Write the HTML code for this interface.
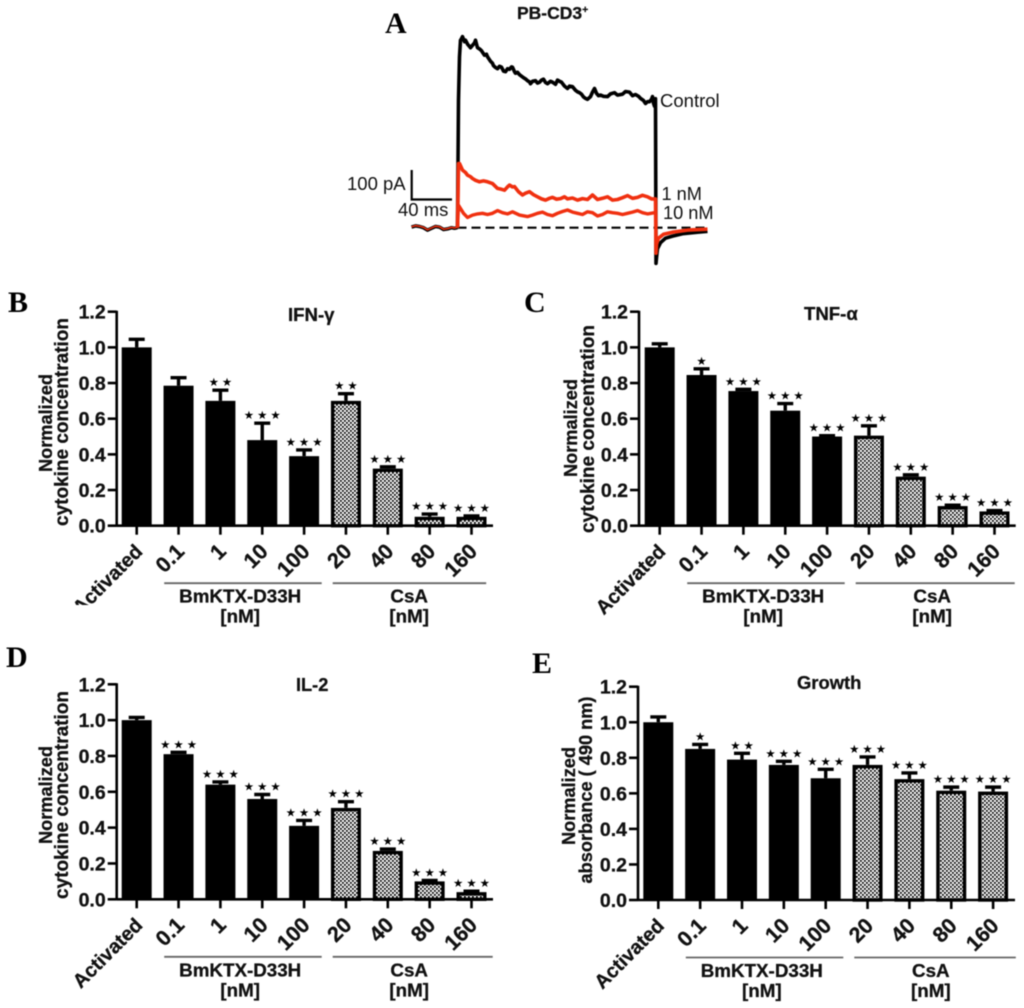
<!DOCTYPE html>
<html>
<head>
<meta charset="utf-8">
<title>BmKTX-D33H figure</title>
<style>
html,body{margin:0;padding:0;background:#fff;width:1024px;height:1008px;overflow:hidden}
svg{display:block;filter:blur(0.5px)}
text{font-family:"Liberation Sans",sans-serif;fill:#111}
.b{font-weight:bold;stroke:#111;stroke-width:0.3px}
.letter{font-family:"Liberation Serif",serif;font-weight:bold;font-size:30px;fill:#000}
.star{font-family:"DejaVu Sans",sans-serif;font-size:11.5px;letter-spacing:3px;fill:#000}
</style>
</head>
<body>
<svg id="fig" xmlns="http://www.w3.org/2000/svg" width="1024" height="1008" viewBox="0 0 1024 1008">
  <defs>
    <pattern id="checker" width="4" height="4" patternUnits="userSpaceOnUse">
      <rect width="4" height="4" fill="#fff"></rect>
      <rect width="1.8" height="1.8" fill="#000"></rect>
      <rect x="2" y="2" width="1.8" height="1.8" fill="#000"></rect>
    </pattern>
    <clipPath id="clip-b-activated"><rect x="0" y="540" width="200" height="65"></rect></clipPath>
  </defs>
  <rect width="1024" height="1008" fill="#fff"></rect>
  <text class="letter" x="385" y="33">A</text>
  <text class="letter" x="8" y="312">B</text>
  <text class="letter" x="524" y="312">C</text>
  <text class="letter" x="6" y="667">D</text>
  <text class="letter" x="532" y="673">E</text>
  <text class="b" x="517" y="19" font-size="17.5">PB-CD3<tspan font-size="10.5" dy="-6">+</tspan></text>
  <text x="347" y="190" font-size="18.5">100 pA</text>
  <text x="398" y="216" font-size="18.5">40 ms</text>
  <text x="660" y="107" font-size="18.5">Control</text>
  <text x="661.5" y="200" font-size="18.2">1 nM</text>
  <text x="663" y="219" font-size="18.2">10 nM</text>
</svg>
<script>
const categories = ["Activated","0.1","1","10","100","20","40","80","160"];
const yTicks = [0,0.2,0.4,0.6,0.8,1.0,1.2];
const yTickLabels = ["0.0","0.2","0.4","0.6","0.8","1.0","1.2"];

const ifnMeans = [1.0,0.785,0.70,0.48,0.39,0.70,0.32,0.05,0.05];
const ifnTops = [1.045,0.83,0.76,0.575,0.425,0.74,0.33,0.065,0.055];
const ifnStars = [0,0,2,3,3,2,3,3,3];

const tnfMeans = [1.0,0.845,0.755,0.645,0.50,0.505,0.275,0.11,0.08];
const tnfTops = [1.02,0.88,0.765,0.685,0.505,0.56,0.285,0.115,0.085];
const tnfStars = [0,1,3,3,3,3,3,3,3];

const il2Means = [1.0,0.81,0.64,0.56,0.41,0.51,0.27,0.10,0.04];
const il2Tops = [1.015,0.82,0.655,0.585,0.44,0.545,0.28,0.105,0.045];
const il2Stars = [0,3,3,3,3,3,3,3,3];

const growthMeans = [1.0,0.85,0.79,0.76,0.685,0.76,0.68,0.615,0.61];
const growthTops = [1.03,0.875,0.825,0.78,0.735,0.805,0.715,0.635,0.635];
const growthStars = [0,1,2,3,3,3,3,3,3];

const preTime = [-46,-42,-38,-34,-30,-26,-22,-18,-14,-10,-6,-3,0];
const preCurrent = [2,6,4,0,-8,-2,4,2,-6,-4,0,-2,0];

const controlTime = [1,2,3,4,5,6,7,8,10,12,13,15,17,18,19,20,22,24,26,27,29,30,32,33,35,36,38,40,42,44,46,48,50,52,54,55,57,58,60,62,64,66,68,70,72,73,75,78,80,82,84,86,88,90,93,95,98,100,102,104,107,110,112,115,118,120,122,124,126,128,130,133,135,137,139,141,143,146,150,153,157,160,165,168,172,175,178,181,183,186,188,190,192,194,195,196,197,198,198.5,199,200,203,208,215,225,240,250];
const controlCurrent = [425,570,625,630,637,628,620,625,612,604,600,608,616,625,612,600,596,590,580,575,578,570,560,555,548,540,534,530,538,535,522,520,530,528,536,535,520,515,518,510,505,500,496,490,486,480,488,490,482,485,492,495,484,480,488,485,478,492,488,485,472,464,472,470,458,453,450,445,436,431,428,437,452,464,448,440,442,438,437,446,450,442,445,454,452,440,444,438,431,424,414,420,420,428,437,415,405,430,-119,-100,-70,-50,-35,-28,-20,-15,-12];

const oneNmTime = [0.5,1,2,5,8,10,13,15,18,22,26,30,35,40,44,47,50,52,55,57,61,65,68,72,76,80,84,88,92,95,99,103,107,110,115,120,125,130,135,140,145,150,155,160,165,170,175,180,185,190,194,197,198,198.5,199,201,206,215,230,250];
const oneNmCurrent = [100,214,214,192,184,175,170,164,158,153,156,153,147,131,128,125,136,142,136,137,120,109,115,120,110,103,96,92,98,101,95,97,103,96,99,92,97,94,109,94,98,103,92,94,100,107,98,101,108,103,96,96,96,-85,-55,-35,-22,-15,-8,-5];

const tenNmTime = [0.5,1,3,6,10,15,20,25,30,35,40,45,50,55,62,70,75,80,85,90,95,100,105,110,115,120,125,130,135,140,145,150,155,160,165,170,175,180,185,190,197,198];
const tenNmCurrent = [40,75,64,48,34,42,46,48,44,48,57,50,46,53,42,37,42,48,52,44,40,48,54,59,52,48,44,53,50,39,44,53,50,48,44,48,52,57,50,46,50,50];

const svg = document.getElementById('fig');
const NS = 'http://www.w3.org/2000/svg';

function mk(tag, attrs, text){
  const el = document.createElementNS(NS, tag);
  for (const k in attrs) el.setAttribute(k, attrs[k]);
  if (text !== undefined) el.textContent = text;
  svg.appendChild(el);
  return el;
}

/* Panel A axis functions: 1 ms = 1 px, 100 pA = 30 px */
const traceX = t => 457.5 + t;
const traceY = i => 227.7 - i * 0.3;
function tracePath(ts, is){
  return ts.map((t,i) => (i ? 'L' : 'M') + traceX(t).toFixed(1) + ' ' + traceY(is[i]).toFixed(1)).join(' ');
}
function drawTrace(ts, is, color, width){
  return mk('path', {d: tracePath(ts, is), fill:'none', stroke:color, 'stroke-width':width, 'stroke-linejoin':'round'});
}

const dash = mk('line', {x1:traceX(0), x2:traceX(250), y1:traceY(0), y2:traceY(0), stroke:'#000', 'stroke-width':2.2, 'stroke-dasharray':'9 5'});



const scaleBar = mk('path', {d:'M411.7 170 V199.5 H452', fill:'none', stroke:'#000', 'stroke-width':2.2});



const preTrace = drawTrace(preTime, preCurrent, '#000', 3.5);



const controlTrace = drawTrace([0].concat(controlTime), [0].concat(controlCurrent), '#000', 3.6);



const preRed = drawTrace(preTime, preCurrent.map(v => v + 1), '#f03010', 1.5);



const oneTrace = drawTrace([0].concat(oneNmTime), [0].concat(oneNmCurrent), '#f03010', 3.6);



const tenTrace = drawTrace([0].concat(tenNmTime), [0].concat(tenNmCurrent), '#f03010', 3.4);



function drawPanel(p, means, tops, stars){
  const y = v => p.y0 - v * (p.y0 - p.y12) / 1.2;
  const x = i => p.c0 + i * 41.85;

  means.forEach((m, i) => {
    const left = x(i) - 15;
    const patterned = i >= 5;
    const err = mk('path', {d:`M${x(i)} ${y(m)} V${y(tops[i])} M${x(i)-8} ${y(tops[i])} H${x(i)+8}`, stroke:'#000', 'stroke-width':3.4, fill:'none'});
    
    
    const bar = patterned
      ? mk('rect', {x:left+1.7, y:y(m)+1.7, width:26.6, height:Math.max(0, y(0)-y(m)-1.7), fill:'url(#checker)', stroke:'#000', 'stroke-width':3.4})
      : mk('rect', {x:left, y:y(m), width:30, height:y(0)-y(m), fill:'#000'});
    
    
    if (stars[i] > 0) {
      const s = mk('text', {class:'star', x:x(i)+1.5, y:y(tops[i])-4, 'text-anchor':'middle'}, '★'.repeat(stars[i]));
      
      
    }
    const tick = mk('line', {x1:x(i), x2:x(i), y1:y(0), y2:y(0)+9, stroke:'#000', 'stroke-width':2.6});
    
    
    const lbl = mk('text', {class:'b', 'font-size':i === 0 ? 19.8 : 21.5, 'text-anchor':'end', transform:`translate(${x(i)+7} ${y(0)+27}) rotate(-45)`}, categories[i]);
    
    
    if (i === 0 && p.clipActivated) {
      const g = mk('g', {'clip-path':'url(#clip-b-activated)'});
      
      
      g.appendChild(lbl);
    }
  });

  yTicks.forEach((v, i) => {
    const t = mk('line', {x1:p.axisX-9, x2:p.axisX, y1:y(v), y2:y(v), stroke:'#000', 'stroke-width':2.6});
    
    
    const l = mk('text', {class:'b', 'font-size':19.5, 'text-anchor':'end', x:p.axisX-11, y:y(v)+7}, yTickLabels[i]);
    
    
  });

  const yAxis = mk('line', {x1:p.axisX, x2:p.axisX, y1:y(1.2)-1, y2:y(0)+1, stroke:'#000', 'stroke-width':2.6});
  
  
  const xAxis = mk('line', {x1:p.axisX, x2:p.xEnd, y1:y(0), y2:y(0), stroke:'#000', 'stroke-width':2.6});
  
  

  const title = mk('text', {class:'b', 'font-size':p.titleSize, x:p.titleX, y:p.titleY}, p.title);
  
  

  const yt1 = mk('text', {class:'b', 'font-size':18.2, 'text-anchor':'middle', transform:`translate(${p.yt1X} ${p.yt1C}) rotate(-90)`}, 'Normalized');
  
  
  const yt2 = mk('text', {class:'b', 'font-size':p.yt2Size, 'text-anchor':'middle', transform:`translate(${p.yt2X} ${p.yt2C}) rotate(-90)`}, p.yTitle2);
  
  

  const g1 = mk('line', {x1:p.c0+27.5, x2:p.c0+185, y1:y(0)+57.5, y2:y(0)+57.5, stroke:'#666', 'stroke-width':1.8});
  
  
  const g2 = mk('line', {x1:p.c0+196, x2:p.c0+p.g2End, y1:y(0)+57.5, y2:y(0)+57.5, stroke:'#666', 'stroke-width':1.8});
  
  

  const t1 = mk('text', {class:'b', 'font-size':18.8, 'text-anchor':'middle', x:p.c0+103.5, y:y(0)+77}, 'BmKTX-D33H');
  
  
  const t2 = mk('text', {class:'b', 'font-size':18.8, 'text-anchor':'middle', x:p.c0+103.5, y:y(0)+97}, '[nM]');
  
  
  const t3 = mk('text', {class:'b', 'font-size':18.8, 'text-anchor':'middle', x:p.c0+272.5, y:y(0)+77}, 'CsA');
  
  
  const t4 = mk('text', {class:'b', 'font-size':18.8, 'text-anchor':'middle', x:p.c0+272.5, y:y(0)+97}, '[nM]');
  
  
}

drawPanel({axisX:116.7,y0:525.7,y12:311.7,c0:136.7,xEnd:493,title:'IFN-γ',titleSize:18.6,titleX:288,titleY:321,
  yTitle2:'cytokine concentration',yt2Size:19,yt1X:52,yt1C:423,yt2X:68,yt2C:422,g2End:349.5,clipActivated:true}, ifnMeans, ifnTops, ifnStars);
drawPanel({axisX:639,y0:525.7,y12:311.7,c0:659.7,xEnd:1015.7,title:'TNF-α',titleSize:18.6,titleX:804,titleY:320,
  yTitle2:'cytokine concentration',yt2Size:19,yt1X:577,yt1C:428,yt2X:594,yt2C:429,g2End:355}, tnfMeans, tnfTops, tnfStars);
drawPanel({axisX:116.7,y0:899.3,y12:684.3,c0:136.7,xEnd:493,title:'IL-2',titleSize:18.2,titleX:296,titleY:691,
  yTitle2:'cytokine concentration',yt2Size:19,yt1X:52,yt1C:795,yt2X:68,yt2C:795,g2End:356}, il2Means, il2Tops, il2Stars);
drawPanel({axisX:638,y0:900,y12:686.7,c0:658.3,xEnd:1015,title:'Growth',titleSize:18.4,titleX:797,titleY:689,
  yTitle2:'absorbance ( 490 nm)',yt2Size:18.2,yt1X:575,yt1C:796,yt2X:592,yt2C:790,g2End:357.5}, growthMeans, growthTops, growthStars);
</script>
</body>
</html>
